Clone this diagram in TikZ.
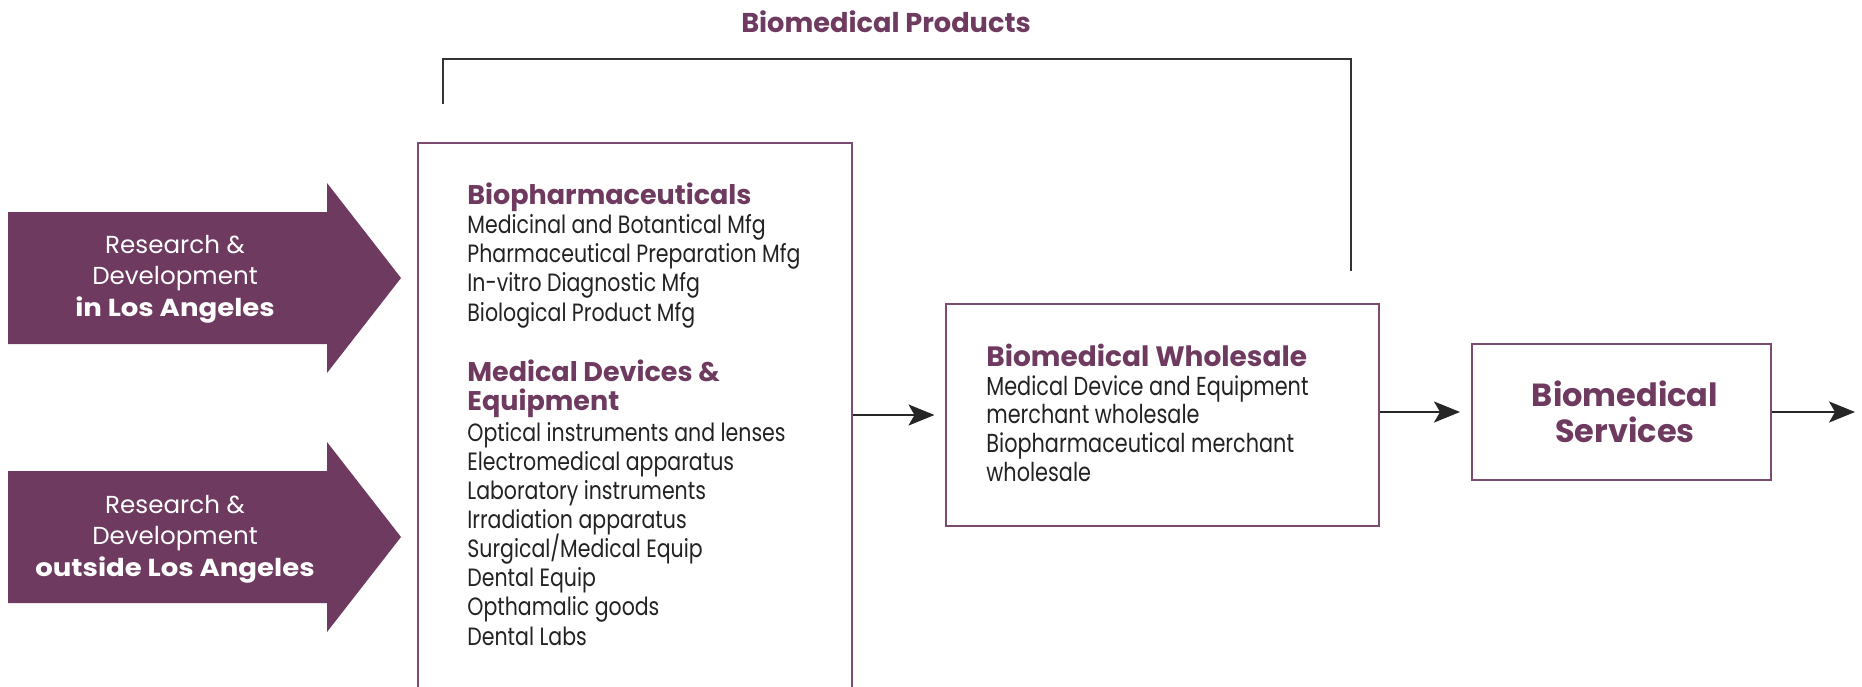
\documentclass[tikz,border=0pt]{standalone}
\usepackage{fontspec}
\setmainfont{Poppins}
\newfontfamily\narrowfont{Poppins}[FakeStretch=0.82]
\newfontfamily\condfont{Poppins}[FakeStretch=0.8]
\newfontfamily\widefont{Poppins}[FakeStretch=1.12]
\usetikzlibrary{arrows.meta,positioning}

\definecolor{plum}{HTML}{6E3A5F}
\definecolor{plumline}{HTML}{7B4C6F}
\definecolor{inktext}{HTML}{222222}

\newcommand\tightlines{\lineskiplimit-20pt\relax}

\tikzset{
  rdtext/.style={text=white, align=center, inner sep=0pt, font=\fontsize{12.3}{15.75}\selectfont\tightlines},
  stagebox/.style={draw=plumline, line width=1pt, inner sep=0pt},
  headtext/.style={text=plum, inner sep=0pt, font=\fontsize{13.5}{14.5}\selectfont\bfseries\tightlines, align=left},
  listtext/.style={text=inktext, inner sep=0pt, font=\narrowfont\fontsize{12.5}{14.55}\selectfont\tightlines, align=left},
  flow/.style={-{Stealth[length=13pt,width=10.5pt,inset=3pt]}, line width=1pt, black!85}
}

\begin{document}
\begin{tikzpicture}[x=0.5pt,y=-0.5pt]
\useasboundingbox (0,0) rectangle (1862,686);

% research and development inputs
\fill[plum] (8,212) -- (327,212) -- (327,183) -- (401,278) -- (327,373) -- (327,344) -- (8,344) -- cycle;
\fill[plum] (8,471) -- (327,471) -- (327,442) -- (401,537) -- (327,632) -- (327,603) -- (8,603) -- cycle;
\node[rdtext, anchor=base] (rdintext) at (175,316) {Research \&\\Development\\{\widefont\bfseries in Los Angeles}};
\node[rdtext, anchor=base] (rdouttext) at (175,576) {Research \&\\Development\\{\widefont\bfseries outside Los Angeles}};

% manufacturing box
\node[stagebox, minimum width=217pt, minimum height=300pt, anchor=north west] (mfg) at (417,142) {};
\node[headtext, anchor=base west] (biohead) at (467,204) {Biopharmaceuticals};
\node[listtext, anchor=base west] (biolist) at (467,321) {Medicinal and Botantical Mfg\\Pharmaceutical Preparation Mfg\\In-vitro Diagnostic Mfg\\Biological Product Mfg};
\node[headtext, anchor=base west] (medhead) at (467,410) {Medical Devices \&\\Equipment};
\node[listtext, anchor=base west] (medlist) at (467,645) {Optical instruments and lenses\\Electromedical apparatus\\Laboratory instruments\\Irradiation apparatus\\Surgical/Medical Equip\\Dental Equip\\Opthamalic goods\\Dental Labs};

% wholesale box
\node[stagebox, minimum width=216.5pt, minimum height=111pt] (whole) at (1162,415) {};
\node[headtext, anchor=base west, font=\fontsize{14}{14}\selectfont\bfseries] (wholehead) at (986,366) {Biomedical Wholesale};
\node[listtext, anchor=base west, font=\condfont\fontsize{13}{14.33}\selectfont\tightlines] (wholelist) at (986,481) {Medical Device and Equipment\\merchant wholesale\\Biopharmaceutical merchant\\wholesale};

% services box
\node[stagebox, minimum width=149.5pt, minimum height=68pt] (serv) at (1621.5,412) {};
\node[headtext, align=center, anchor=base, font=\fontsize{16}{18}\selectfont\bfseries] (servtext) at (1625,442) {Biomedical\\Services};

% products bracket
\node[headtext, anchor=base, font=\fontsize{13.6}{14}\selectfont\bfseries] (prodtitle) at (886,32) {Biomedical Products};
\coordinate (prodL) at (443,104);
\coordinate (prodR) at (1351,271);
\draw[line width=1pt, black!80] (prodL) -- ++(0,-45) -| (prodR);

% flows
\coordinate (servout) at (1855,412);
\draw[flow, shorten >=5pt] (mfg.east |- whole.west) -- (whole.west);
\draw[flow, shorten >=5.5pt] (whole.east |- serv.west) -- (serv.west);
\draw[flow] (serv.east) -- (servout);

\end{tikzpicture}
\end{document}
